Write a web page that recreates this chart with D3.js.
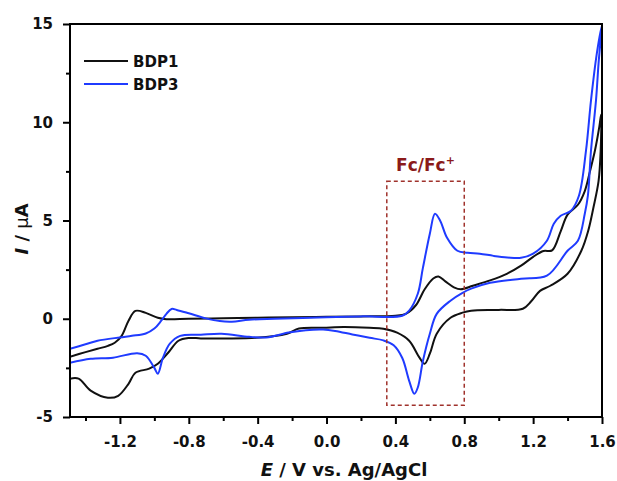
<!DOCTYPE html>
<html>
<head>
<meta charset="utf-8">
<script src="https://cdn.jsdelivr.net/npm/d3@7"></script>
<style>
  body { margin: 0; background: #fff; }
  text { font-family: "DejaVu Sans", sans-serif; font-weight: bold; }
</style>
</head>
<body>
<script>
// potential (V) and current (uA), one loop per compound
let bdp1E = [-1.49, -1.40, -1.33, -1.27, -1.23, -1.19, -1.15, -1.11, -1.05, -0.98, -0.93, -0.80, -0.60, -0.40, -0.20, 0.00, 0.20, 0.40,
  0.46, 0.52, 0.57, 0.62, 0.65, 0.69, 0.74, 0.78, 0.85, 0.95, 1.05, 1.13, 1.20, 1.26, 1.31, 1.36, 1.40, 1.46, 1.50, 1.53, 1.56, 1.585, 1.595,
  1.592, 1.58, 1.55, 1.52, 1.48, 1.40, 1.30, 1.24, 1.19, 1.14, 1.00, 0.84, 0.79, 0.72, 0.64, 0.60, 0.57, 0.54, 0.48, 0.41, 0.33, 0.25, 0.10,
  -0.02, -0.16, -0.23, -0.41, -0.61, -0.73, -0.80, -0.86, -0.92, -0.98, -1.03, -1.11, -1.15, -1.21, -1.27, -1.37, -1.44, -1.49]
let bdp1I = [-1.93, -1.70, -1.53, -1.38, -1.22, -0.87, -0.10, 0.40, 0.30, 0.05, -0.02, 0.00, 0.02, 0.05, 0.08, 0.10, 0.12, 0.15,
  0.25, 0.70, 1.50, 2.05, 2.15, 1.90, 1.60, 1.50, 1.68, 1.95, 2.30, 2.70, 3.15, 3.45, 3.48, 4.45, 5.30, 5.80, 6.50, 7.50, 8.60, 9.80, 10.4,
  8.50, 7.00, 5.65, 4.48, 3.46, 2.29, 1.68, 1.42, 0.90, 0.51, 0.45, 0.41, 0.31, 0.05, -0.76, -1.78, -2.29, -1.98, -1.12, -0.71, -0.51, -0.46, -0.42,
  -0.46, -0.50, -0.76, -0.97, -1.00, -1.00, -0.98, -1.12, -1.73, -2.29, -2.54, -2.75, -3.31, -3.92, -4.02, -3.66, -3.05, -3.05]

let bdp3E = [-1.49, -1.40, -1.33, -1.20, -1.13, -1.05, -1.00, -0.96, -0.93, -0.90, -0.87, -0.80, -0.70, -0.62, -0.55, -0.45, -0.30, 0.00, 0.20, 0.44,
  0.48, 0.53, 0.56, 0.60, 0.63, 0.66, 0.70, 0.76, 0.82, 0.89, 0.97, 1.05, 1.13, 1.20, 1.28, 1.32, 1.36, 1.42, 1.466, 1.507, 1.536, 1.57, 1.598,
  1.58, 1.565, 1.536, 1.518, 1.50, 1.46, 1.40, 1.28, 1.13, 0.95, 0.84, 0.79, 0.72, 0.64, 0.60, 0.56, 0.53, 0.51, 0.48, 0.44, 0.39, 0.33, 0.25,
  0.15, 0.05, -0.02, -0.12, -0.22, -0.35, -0.45, -0.61, -0.73, -0.85, -0.91, -0.95, -0.98, -1.00, -1.05, -1.10, -1.24, -1.37, -1.49]
let bdp3I = [-1.53, -1.30, -1.12, -0.95, -0.87, -0.75, -0.50, -0.10, 0.25, 0.50, 0.45, 0.28, 0.02, -0.12, -0.15, -0.05, 0.00, 0.07, 0.12, 0.15,
  0.41, 1.27, 2.60, 4.33, 5.34, 4.99, 4.12, 3.46, 3.36, 3.31, 3.20, 3.12, 3.10, 3.31, 3.97, 4.83, 5.24, 5.50, 6.26, 8.55, 11.1, 13.5, 14.9,
  13.0, 11.1, 8.55, 6.26, 5.34, 3.97, 3.46, 2.19, 2.04, 1.83, 1.53, 1.32, 0.92, 0.25, -0.76, -2.14, -3.50, -3.82, -3.16, -2.00, -1.35, -1.10, -0.97,
  -0.80, -0.62, -0.55, -0.58, -0.70, -0.95, -0.92, -0.76, -0.81, -0.87, -1.27, -1.98, -2.80, -2.50, -1.88, -1.75, -1.98, -2.04, -2.24]

let seriesNames = ["BDP1", "BDP3"]
let seriesColors = ["#111111", "#1f3bff"]

let xMajor = [-1.2, -0.8, -0.4, 0.0, 0.4, 0.8, 1.2, 1.6]
let xMinor = [-1.4, -1.0, -0.6, -0.2, 0.2, 0.6, 1.0, 1.4]
let yMajor = [-5, 0, 5, 10, 15]
let yMinor = [-2.5, 2.5, 7.5, 12.5]

// Fc/Fc+ box, in data units
let boxE = [0.35, 0.80]
let boxI = [-4.4, 7.0]

let width = 617
let height = 481
let plotL = 70, plotR = 602, plotT = 24, plotB = 417

let svg = d3.select("body")
            .append("svg")
            .attr("width", width)
            .attr("height", height)

let xScale = d3.scaleLinear().domain([-1.49, 1.6]).range([plotL, plotR])
let yScale = d3.scaleLinear().domain([-5, 15]).range([plotB, plotT])

svg.append("clipPath")
    .attr("id", "plot")
    .append("rect")
    .attr("x", plotL).attr("y", plotT)
    .attr("width", plotR - plotL).attr("height", plotB - plotT)

let line = d3.line()
             .x(d => xScale(d[0]))
             .y(d => yScale(d[1]))
             .curve(d3.curveCatmullRom.alpha(0.5))

let loops = [d3.zip(bdp1E, bdp1I), d3.zip(bdp3E, bdp3I)]

svg.append("g")
    .attr("clip-path", "url(#plot)")
    .selectAll("path")
    .data(loops)
    .enter()
    .append("path")
    .attr("d", line)
    .attr("fill", "none")
    .attr("stroke", (d, i) => seriesColors[i])
    .attr("stroke-width", 2)
    .attr("stroke-linejoin", "round")

// dashed box round the ferrocene couple
svg.append("rect")
    .attr("x", xScale(boxE[0]))
    .attr("y", yScale(boxI[1]))
    .attr("width", xScale(boxE[1]) - xScale(boxE[0]))
    .attr("height", yScale(boxI[0]) - yScale(boxI[1]))
    .attr("fill", "none")
    .attr("stroke", "#a0322c")
    .attr("stroke-width", 1.5)
    .attr("stroke-dasharray", "4,3")

let fc = svg.append("text")
    .attr("x", xScale((boxE[0] + boxE[1]) / 2))
    .attr("y", yScale(boxI[1]) - 10)
    .attr("text-anchor", "middle")
    .attr("fill", "#8b1a1a")
    .style("font-size", "17px")
    .text("Fc/Fc")
fc.append("tspan")
    .attr("dy", -7)
    .style("font-size", "11px")
    .text("+")

// axes
let xAxis = d3.axisBottom(xScale)
              .tickValues(xMajor)
              .tickSize(7)
              .tickPadding(12)
              .tickFormat(d3.format(".1f"))

let gx = svg.append("g")
    .attr("transform", "translate(0," + plotB + ")")
    .call(xAxis)

svg.append("g")
    .attr("transform", "translate(0," + plotB + ")")
    .call(d3.axisBottom(xScale).tickValues(xMinor).tickSize(4).tickFormat(""))

let yAxis = d3.axisLeft(yScale)
              .tickValues(yMajor)
              .tickSize(7)
              .tickPadding(10)

let gy = svg.append("g")
    .attr("transform", "translate(" + plotL + ",0)")
    .call(yAxis)

svg.append("g")
    .attr("transform", "translate(" + plotL + ",0)")
    .call(d3.axisLeft(yScale).tickValues(yMinor).tickSize(4).tickFormat(""))

svg.selectAll(".domain").remove()
svg.selectAll(".tick line").attr("stroke", "#000").attr("stroke-width", 2)
svg.selectAll(".tick text")
    .attr("fill", "#111")
    .style("font-size", "15px")
    .style("font-family", "DejaVu Sans")
    .style("font-weight", "bold")
gx.selectAll(".tick text").text(d => d3.format(".1f")(d).replace("−", "-"))
gy.selectAll(".tick text").text(d => String(d).replace("−", "-"))

// frame
svg.append("rect")
    .attr("x", plotL).attr("y", plotT)
    .attr("width", plotR - plotL).attr("height", plotB - plotT)
    .attr("fill", "none")
    .attr("stroke", "#000")
    .attr("stroke-width", 2)

// legend
let legend = svg.append("g")
legend.selectAll("line")
    .data(seriesNames)
    .enter()
    .append("line")
    .attr("x1", 84).attr("x2", 128)
    .attr("y1", (d, i) => 61 + i * 23)
    .attr("y2", (d, i) => 61 + i * 23)
    .attr("stroke", (d, i) => seriesColors[i])
    .attr("stroke-width", 2)
legend.selectAll("text")
    .data(seriesNames)
    .enter()
    .append("text")
    .attr("x", 133)
    .attr("y", (d, i) => 67 + i * 23)
    .attr("fill", "#111")
    .style("font-size", "15px")
    .text(d => d)

// axis titles
let xt = svg.append("text")
    .attr("x", (plotL + plotR) / 2 + 8)
    .attr("y", 476)
    .attr("text-anchor", "middle")
    .attr("fill", "#111")
    .style("font-size", "18px")
xt.append("tspan").style("font-style", "italic").text("E")
xt.append("tspan").text(" / V vs. Ag/AgCl")

let yt = svg.append("text")
    .attr("transform", "translate(28," + 229 + ") rotate(-90)")
    .attr("text-anchor", "middle")
    .attr("fill", "#111")
    .style("font-size", "18px")
yt.append("tspan").style("font-style", "italic").text("I")
yt.append("tspan").text(" / ")
yt.append("tspan").style("font-weight", "normal").text("μ")
yt.append("tspan").text("A")
</script>
</body>
</html>
